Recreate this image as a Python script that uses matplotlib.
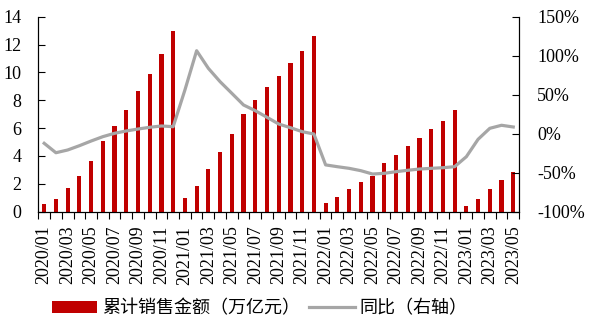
import matplotlib
matplotlib.use("Agg")
import matplotlib.pyplot as plt
import numpy as np
from matplotlib.ticker import FuncFormatter, FixedLocator

months = [f"{y}/{m:02d}" for y in range(2020, 2024) for m in range(1, 13)][:41]

sales = [0.55, 0.89, 1.68, 2.56, 3.64, 5.10, 6.17, 7.30, 8.64, 9.90, 11.32, 13.00,
         0.98, 1.84, 3.07, 4.26, 5.55, 7.01, 8.02, 8.93, 9.74, 10.67, 11.51, 12.60,
         0.60, 1.03, 1.63, 2.12, 2.58, 3.47, 4.09, 4.72, 5.31, 5.91, 6.53, 7.28,
         0.41, 0.91, 1.65, 2.28, 2.85]

yoy = [-12.3, -24.4, -20.9, -15.4, -9.4, -3.8, 0.5, 3.5, 6.0, 8.2, 9.9, 9.0,
       56.0, 106.4, 83.8, 66.7, 51.8, 36.8, 29.5, 21.0, 12.4, 7.7, 2.6, -0.4,
       -40.0, -42.3, -44.4, -47.4, -51.7, -50.8, -48.7, -46.9, -45.3, -44.4, -43.6, -42.3,
       -29.5, -7.2, 6.9, 10.8, 8.6]

bar_label = "累计销售金额（万亿元）"
line_label = "同比（右轴）"

plt.rcParams["font.family"] = "serif"
plt.rcParams["font.serif"] = ["Liberation Serif", "DejaVu Serif"]
plt.rcParams["font.size"] = 13
serif = "Liberation Serif"
cjk = ["Noto Sans CJK SC", "DejaVu Sans"]

fig = plt.figure(figsize=(5.96, 3.21), dpi=100)
ax = fig.add_axes([0.0643, 0.3405, 0.8067, 0.6075])
ax2 = ax.twinx()

x = np.arange(len(months))
ax.bar(x, sales, width=0.36, color="#C00000", label=bar_label, zorder=2)
ax2.plot(x, yoy, color="#A6A6A6", lw=2.3, label=line_label, zorder=3,
         solid_joinstyle="round")

ax.set_xlim(-0.5, len(months) - 0.5)
ax.set_ylim(0, 14)
ax.set_yticks(np.arange(0, 15, 2))
ax2.set_ylim(-100, 150)
ax2.set_yticks(np.arange(-100, 151, 50))
ax2.yaxis.set_major_formatter(FuncFormatter(lambda v, p: f"{int(v)}%"))

# x ticks: marks at boundaries, labels at odd months
ax.xaxis.set_major_locator(FixedLocator(np.arange(-0.5, len(months), 1.0)))
ax.xaxis.set_major_formatter(FuncFormatter(lambda v, p: ""))
lab_pos = x[::2]
ax.xaxis.set_minor_locator(FixedLocator(lab_pos))
ax.set_xticklabels([months[i] for i in lab_pos], minor=True, rotation=90,
                   family=serif)
ax.tick_params(axis="x", which="major", direction="out", length=5, width=0.8)
ax.tick_params(axis="x", which="minor", length=0, pad=10, labelsize=13)

ax.tick_params(axis="y", direction="in", length=5, width=0.8, pad=12, labelsize=13)
ax2.tick_params(axis="y", direction="in", length=5, width=0.8, pad=13, labelsize=13)

for a in (ax, ax2):
    a.spines["top"].set_visible(False)
    for s in ("left", "right", "bottom"):
        a.spines[s].set_linewidth(0.8)

h1, l1 = ax.get_legend_handles_labels()
h2, l2 = ax2.get_legend_handles_labels()
fig.legend(h1 + h2, l1 + l2, loc="center", bbox_to_anchor=(0.436, 0.04), ncol=2,
           frameon=False, prop={"family": cjk, "size": 13}, handlelength=2.5,
           handleheight=0.7, columnspacing=0.5, handletextpad=0.3)

fig.canvas.draw()
for lab in ax.get_yticklabels() + ax2.get_yticklabels() + ax.get_xticklabels(minor=True):
    lab.set_family(serif)

fig.savefig("out.png", dpi=100)
